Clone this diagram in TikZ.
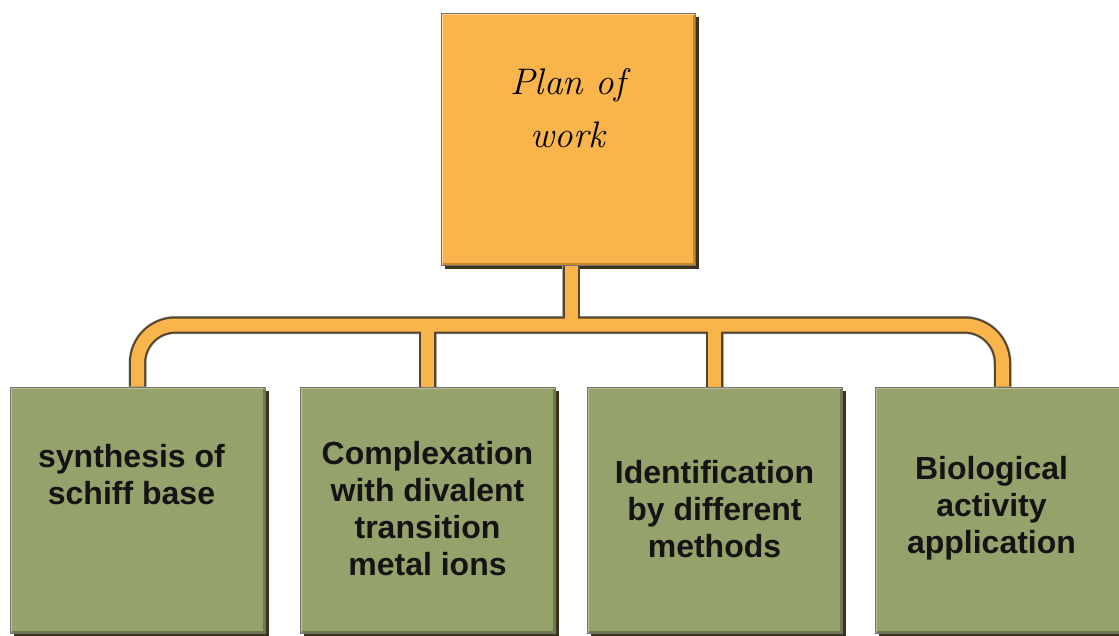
\documentclass[tikz,border=0pt]{standalone}
\usepackage{fontspec}
\newfontfamily\sansb{Liberation Sans}
\usetikzlibrary{backgrounds}
\definecolor{orng}{RGB}{250,180,76}
\definecolor{orngl}{RGB}{255,212,140}
\definecolor{orngd}{RGB}{200,135,40}
\definecolor{grn}{RGB}{150,162,108}
\definecolor{grnl}{RGB}{185,195,145}
\definecolor{grnd}{RGB}{110,120,75}
\definecolor{shd}{RGB}{60,50,30}
\definecolor{tubeo}{RGB}{85,70,45}
\begin{document}
\begin{tikzpicture}[x=1pt,y=-1pt,
  box/.style={draw=black!55, line width=0.8pt, minimum width=255pt, inner sep=0pt},
  obox/.style={box, fill=orng, minimum width=254pt, minimum height=252pt,
    path picture={
      \draw[orngd, line width=4pt] (path picture bounding box.south west) -- (path picture bounding box.south east) -- (path picture bounding box.north east);
      \draw[orngl, line width=4pt] (path picture bounding box.south west) -- (path picture bounding box.north west) -- (path picture bounding box.north east);}},
  gbox/.style={box, fill=grn, minimum height=246pt,
    path picture={
      \draw[grnd, line width=4pt] (path picture bounding box.south west) -- (path picture bounding box.south east) -- (path picture bounding box.north east);
      \draw[grnl, line width=4pt] (path picture bounding box.south west) -- (path picture bounding box.north west) -- (path picture bounding box.north east);}},
  gtext/.style={font=\sansb\bfseries\fontsize{32}{37}\selectfont, align=center, text=black!92},
  ptext/.style={font=\itshape\fontsize{37}{53}\selectfont, align=center, text=black},
  tubeshadow/.style={draw=black!35, line width=18pt, rounded corners=38pt, shift={(3,3)}},
  tubeout/.style={draw=tubeo, line width=17pt, rounded corners=38pt},
  tubein/.style={draw=orng, line width=13pt, rounded corners=38pt},
  boxshadow/.style={fill=shd}
]
\useasboundingbox (0,0) rectangle (1119,635);

\node[obox, label={[ptext, yshift=31pt]center:{Plan of\\work}}] (plan) at (568,139) {};
\node[gbox, label={[gtext, xshift=-6pt, yshift=35pt]center:{synthesis of\\schiff base}}] (b1) at (137.5,510) {};
\node[gbox, label={[gtext, yshift=1pt]center:{Complexation\\with divalent\\transition\\metal ions}}] (b2) at (427.5,510) {};
\node[gbox, label={[gtext, yshift=1pt]center:{Identification\\by different\\methods}}] (b3) at (714.5,510) {};
\node[gbox, label={[gtext, xshift=-11pt, yshift=2pt]center:{Biological\\activity\\application}}] (b4) at (1002.5,510) {};

\begin{pgfonlayer}{background}
  \fill[white] (0,0) rectangle (1119,635);
  \coordinate (jn) at (571,325);
  \foreach \n in {plan,b1,b2,b3,b4}
    \fill[boxshadow] ([shift={(4,4)}]\n.south west) rectangle ([shift={(4,4)}]\n.north east);
  \foreach \st in {tubeshadow,tubeout,tubein} {
    \draw[\st] (b1.north) |- (jn) -| (b4.north);
    \draw[\st] (b2.north) -- (b2.north |- jn);
    \draw[\st] (b3.north) -- (b3.north |- jn);
    \draw[\st] (plan.south -| jn) -- (jn);
  }
\end{pgfonlayer}
\end{tikzpicture}
\end{document}
